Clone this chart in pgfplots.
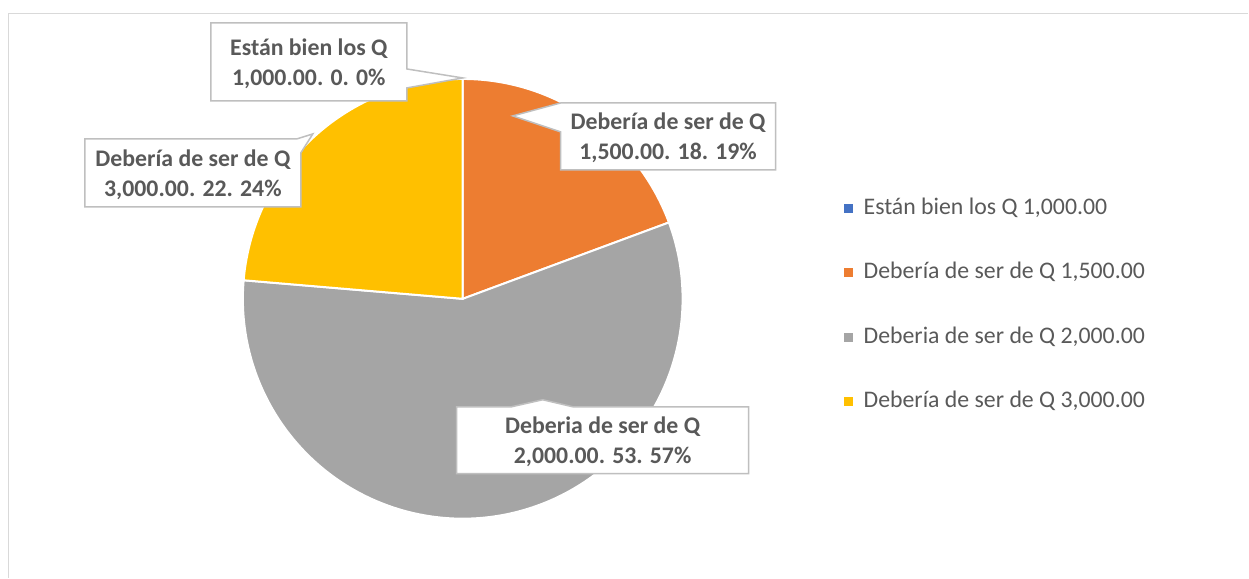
\documentclass[border=0pt]{standalone}
\usepackage{pgfplots}
\pgfplotsset{compat=1.18}
\usepackage{pgfplotstable}
\usepackage{fontspec}
\setmainfont{Carlito}
\definecolor{cblue}{HTML}{4472C4}
\definecolor{corange}{HTML}{ED7D31}
\definecolor{cgray}{HTML}{A5A5A5}
\definecolor{cyellow}{HTML}{FFC000}
\definecolor{txt}{HTML}{595959}
\definecolor{boxline}{HTML}{BFBFBF}
\definecolor{framec}{HTML}{D9D9D9}

\pgfplotstableread{
idx value
0 0
1 18
2 53
3 22
}\piedata

\pgfplotsset{sq/.style={legend image code/.code={\fill[#1] (0pt,-2pt) rectangle (4pt,2pt); \path (9.5pt,0pt);}}}

\begin{document}
\begin{tikzpicture}[font=\fontsize{11.9}{15}\selectfont]
\pgfplotstablegetelem{0}{value}\of\piedata \edef\vA{\pgfplotsretval}
\pgfplotstablegetelem{1}{value}\of\piedata \edef\vB{\pgfplotsretval}
\pgfplotstablegetelem{2}{value}\of\piedata \edef\vC{\pgfplotsretval}
\pgfplotstablegetelem{3}{value}\of\piedata \edef\vD{\pgfplotsretval}
\pgfmathsetmacro{\tot}{\vA+\vB+\vC+\vD}
\pgfmathsetmacro{\k}{360/\tot}
\pgfmathsetmacro{\aA}{90-\k*\vA}
\pgfmathsetmacro{\aB}{\aA-\k*\vB}
\pgfmathsetmacro{\aC}{\aB-\k*\vC}
\pgfmathsetmacro{\aD}{\aC-\k*\vD}
\begin{axis}[
  scale only axis, width=624.5pt, height=289pt,
  xmin=0, xmax=1249, ymin=0, ymax=578, y dir=reverse,
  hide axis, clip=false,
  legend cell align=left,
  legend style={at={(axis description cs:0.6757,0.4720)}, anchor=west,
    draw=none, fill=none, inner sep=0pt, row sep=22.2pt, text=txt,
    font=\fontsize{11.9}{15}\selectfont,
    nodes={inner sep=0pt, text height=8pt, text depth=2pt}},
]
\path (axis cs:0,0) rectangle (axis cs:1249,578);
\draw[framec, line width=0.75pt] (axis cs:8.5,578) -- (axis cs:8.5,13.5) -- (axis cs:1249,13.5);

\addplot[fill=corange, draw=white, line width=1pt, domain=\aB:\aA, samples=90, variable=\t, forget plot]
  ({463+220*cos(\t)},{299-220*sin(\t)}) -- (axis cs:463,299) -- cycle;
\addplot[fill=cgray, draw=white, line width=1pt, domain=\aC:\aB, samples=200, variable=\t, forget plot]
  ({463+220*cos(\t)},{299-220*sin(\t)}) -- (axis cs:463,299) -- cycle;
\addplot[fill=cyellow, draw=white, line width=1pt, domain=\aD:\aC, samples=90, variable=\t, forget plot]
  ({463+220*cos(\t)},{299-220*sin(\t)}) -- (axis cs:463,299) -- cycle;

\addlegendimage{sq=cblue}\addlegendentry{Están bien los Q 1,000.00}
\addlegendimage{sq=corange}\addlegendentry{Debería de ser de Q 1,500.00}
\addlegendimage{sq=cgray}\addlegendentry{Deberia de ser de Q 2,000.00}
\addlegendimage{sq=cyellow}\addlegendentry{Debería de ser de Q 3,000.00}

% callouts
\draw[boxline, fill=white, line width=0.75pt] (axis cs:211,23) -- (axis cs:407,23) -- (axis cs:407,69) -- (axis cs:463,78) -- (axis cs:407,88) -- (axis cs:407,101) -- (axis cs:211,101) -- cycle;
\node[align=center, font=\fontsize{11.9}{15}\selectfont\bfseries, text=txt] at (axis cs:309,63.5) {Están bien los Q\\1,000.00. 0. 0\%};

\draw[boxline, fill=white, line width=0.75pt] (axis cs:561,103) -- (axis cs:776,103) -- (axis cs:776,170) -- (axis cs:561,170) -- (axis cs:561,132) -- (axis cs:513,116) -- cycle;
\node[align=center, font=\fontsize{11.9}{15}\selectfont\bfseries, text=txt] at (axis cs:668.5,138) {Debería de ser de Q\\1,500.00. 18. 19\%};

\draw[boxline, fill=white, line width=0.75pt] (axis cs:85,139) -- (axis cs:297,139) -- (axis cs:313,134) -- (axis cs:301,153) -- (axis cs:301,207) -- (axis cs:85,207) -- cycle;
\node[align=center, font=\fontsize{11.9}{15}\selectfont\bfseries, text=txt] at (axis cs:193,174.5) {Debería de ser de Q\\3,000.00. 22. 24\%};

\draw[boxline, fill=white, line width=0.75pt] (axis cs:457,407) -- (axis cs:512,407) -- (axis cs:543,400) -- (axis cs:573,407) -- (axis cs:749,407) -- (axis cs:749,474) -- (axis cs:457,474) -- cycle;
\node[align=center, font=\fontsize{11.9}{15}\selectfont\bfseries, text=txt] at (axis cs:603,442) {Deberia de ser de Q\\2,000.00. 53. 57\%};
\end{axis}
\end{tikzpicture}
\end{document}
